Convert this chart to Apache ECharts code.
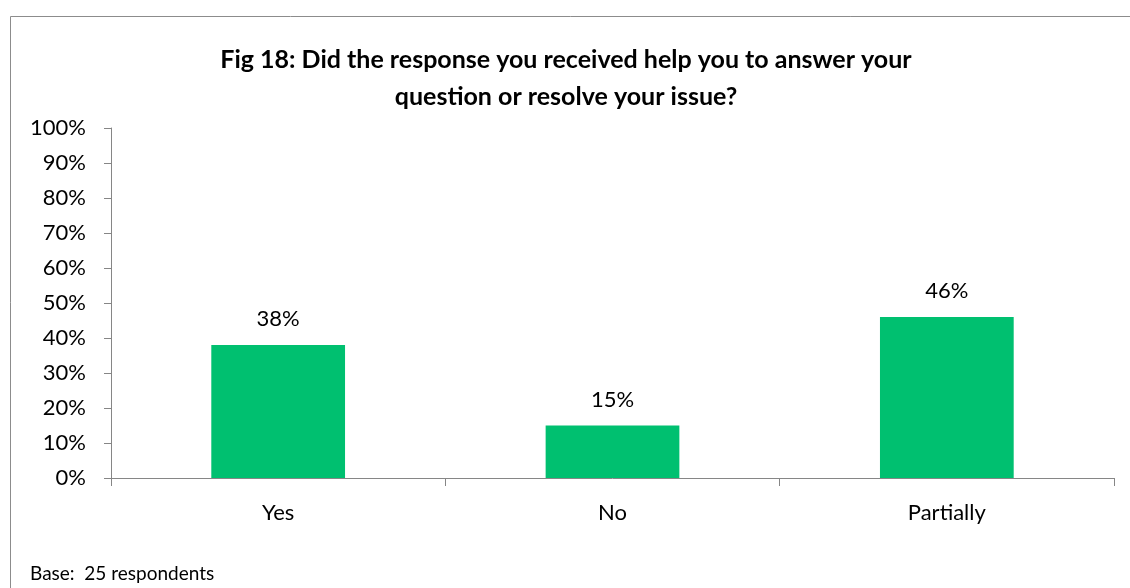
<!DOCTYPE html>
<html>
<head>
<meta charset="utf-8">
<script src="https://cdn.jsdelivr.net/npm/echarts@6/dist/echarts.min.js"></script>
<style>
  html, body { margin: 0; padding: 0; background: #fff; }
  #chart { width: 1130px; height: 588px; }
</style>
</head>
<body>
<div id="chart"></div>
<script>
const categories = ['Yes', 'No', 'Partially'];
const values = [38, 15, 46];
const yTicks = [0, 10, 20, 30, 40, 50, 60, 70, 80, 90, 100];

const FONT = 'Lato, "Open Sans", sans-serif';
const chart = echarts.init(document.getElementById('chart'), null, { renderer: 'canvas' });

chart.setOption({
  animation: false,
  backgroundColor: '#ffffff',
  title: {
    text: 'Fig 18: Did the response you received help you to answer your\nquestion or resolve your issue?',
    left: 561,
    top: 36,
    textAlign: 'center',
    textStyle: {
      fontFamily: FONT,
      fontWeight: 'bold',
      fontSize: 25,
      lineHeight: 37,
      color: '#000'
    }
  },
  graphic: [
    {
      type: 'rect',
      shape: { x: 10.5, y: 16.5, width: 1140, height: 600 },
      style: { fill: 'none', stroke: '#8c8c8c', lineWidth: 1 },
      silent: true
    },
    {
      type: 'text',
      left: 30,
      top: 564,
      style: { text: 'Base:  25 respondents', font: '19px ' + FONT, fill: '#000' }
    }
  ],
  grid: { left: 111, right: 16, top: 128, bottom: 110 },
  xAxis: {
    type: 'category',
    data: categories,
    axisLine: { lineStyle: { color: '#868686', width: 1 } },
    axisTick: { show: true, alignWithLabel: false, length: 8, lineStyle: { color: '#868686' } },
    axisLabel: { fontFamily: FONT, fontSize: 22, color: '#000', margin: 24 }
  },
  yAxis: {
    type: 'value',
    min: yTicks[0],
    max: yTicks[yTicks.length - 1],
    interval: 10,
    splitLine: { show: false },
    axisLine: { show: true, lineStyle: { color: '#868686', width: 1 } },
    axisTick: { show: true, inside: false, length: 7, lineStyle: { color: '#868686' } },
    axisLabel: { fontFamily: FONT, fontSize: 22, color: '#000', margin: 25, formatter: '{value}%' }
  },
  series: [{
    type: 'bar',
    data: values,
    barWidth: '40%',
    itemStyle: { color: '#00c070' },
    label: {
      show: true,
      position: 'top',
      distance: 15,
      formatter: '{c}%',
      fontFamily: FONT,
      fontSize: 22,
      color: '#000'
    }
  }]
});
</script>
</body>
</html>
